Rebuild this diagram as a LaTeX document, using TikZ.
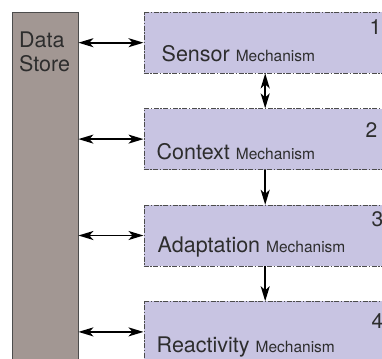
\documentclass[tikz,border=0pt]{standalone}
\usepackage{fontspec}
\setmainfont{TeX Gyre Heros}
\usetikzlibrary{positioning, arrows.meta}

\definecolor{mechfill}{RGB}{200,196,226}
\definecolor{storefill}{RGB}{162,151,147}
\definecolor{inktext}{RGB}{45,45,45}

\newcommand{\mechword}{{\fontsize{15.5}{18}\selectfont Mechanism}}

\begin{document}
\begin{tikzpicture}[
  x=1pt, y=1pt,
  node distance=35pt,
  store/.style={draw=black!70, fill=storefill, minimum width=66pt, minimum height=360pt, anchor=north west, inner sep=0pt},
  mech/.style={draw=black!70, dash pattern=on 5pt off 1.5pt on 1.5pt off 1.5pt, fill=mechfill, minimum width=243pt, minimum height=61pt, inner sep=0pt},
  mtext/.style={anchor=base west, inner sep=0pt, text=inktext, font=\fontsize{21.5}{24}\selectfont},
  num/.style={anchor=base west, inner sep=0pt, text=inktext, font=\fontsize{21}{24}\selectfont},
  arr/.style={-{Stealth[length=15pt, width=9pt, inset=4pt]}, line width=1.8pt},
  dbl/.style={{Stealth[length=15pt, width=9pt, inset=4pt]}-{Stealth[length=15pt, width=9pt, inset=4pt]}, line width=1.8pt}
]
  \useasboundingbox (0,0) rectangle (382,-358);
  \clip (0,0) rectangle (382,-358);

  \node[store] (store) at (12,-12) {};
  \node[mtext, align=left] (storetxt) at ([shift={(7,-60)}]store.north west) {Data\\Store};

  \node[mech, anchor=north west] (sensor) at (143.5,-12) {};
  \node[mech, below=of sensor] (context) {};
  \node[mech, below=of context] (adapt) {};
  \node[mech, below=of adapt] (react) {};

  \node[mtext] (sensortxt) at ([shift={(18,-50)}]sensor.north west) {Sensor \mechword};
  \node[mtext] (contexttxt) at ([shift={(13,-51)}]context.north west) {Context \mechword};
  \node[mtext] (adapttxt) at ([shift={(14,-48)}]adapt.north west) {Adaptation \mechword};
  \node[mtext] (reacttxt) at ([shift={(13,-51)}]react.north west) {Reactivity \mechword};

  \node[num] (sensornum) at ([shift={(226,-23)}]sensor.north west) {1};
  \node[num] (contextnum) at ([shift={(222,-29)}]context.north west) {2};
  \node[num] (adaptnum) at ([shift={(228,-22)}]adapt.north west) {3};
  \node[num] (reactnum) at ([shift={(228,-27)}]react.north west) {4};

  \draw[dbl] (store.east |- sensor.west) -- (sensor.west);
  \draw[dbl] (store.east |- context.west) -- (context.west);
  \draw[dbl] (store.east |- adapt.west) -- (adapt.west);
  \draw[dbl] (store.east |- react.west) -- (react.west);

  \draw[dbl] (sensor) -- (context);
  \draw[arr] (context) -- (adapt);
  \draw[arr] (adapt) -- (react);
\end{tikzpicture}
\end{document}
